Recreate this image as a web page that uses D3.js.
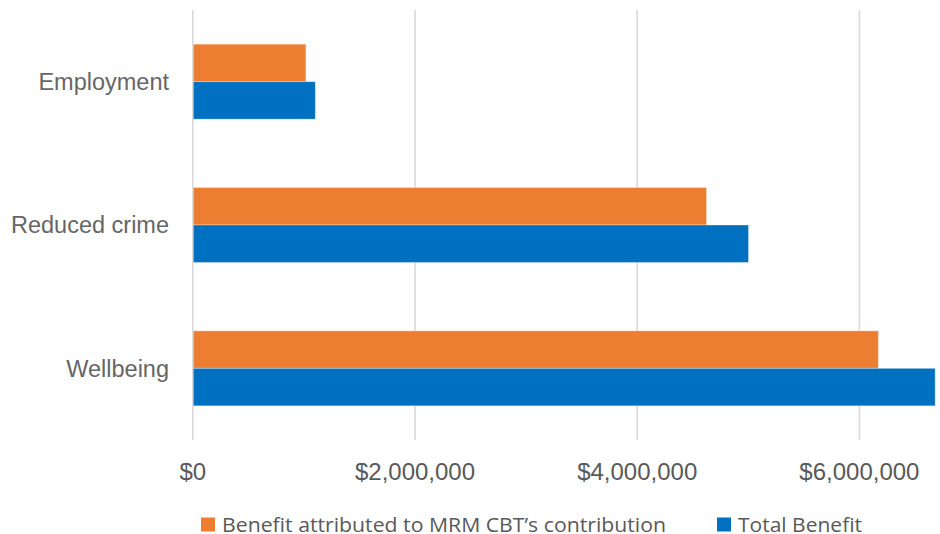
<!DOCTYPE html>
<html><head><meta charset="utf-8">
<script src="https://cdn.jsdelivr.net/npm/d3@7"></script>
<style>
html,body{margin:0;padding:0;background:#fff;overflow:hidden;}
svg{display:block;}
</style></head>
<body>
<svg id="chart" width="940" height="534"></svg>
<script>
const categories = ["Employment", "Reduced crime", "Wellbeing"];
const seriesNames = ["Benefit attributed to MRM CBT\u2019s contribution", "Total Benefit"];
const attributedValues = [1018000, 4624000, 6171000];
const totalValues = [1103000, 5002000, 6682000];
const xTickValues = [0, 2000000, 4000000, 6000000];
const seriesColors = ["#ED7D31", "#0070C0"];

const svg = d3.select("#chart");
const plot = {left: 192.8, top: 10, bottom: 440};

const x = d3.scaleLinear().domain([0, 7000000]).range([plot.left, plot.left + 7 * 111.1]);
const y = d3.scaleBand().domain(categories).range([plot.top, plot.bottom]).paddingInner(0.4767).paddingOuter(0.2383);
const ySub = d3.scaleBand().domain([0, 1]).range([0, y.bandwidth()]);

const fmt = v => "$" + d3.format(",")(v);

// gridlines
svg.append("g").selectAll("line").data(xTickValues).join("line")
  .attr("x1", d => x(d)).attr("x2", d => x(d))
  .attr("y1", plot.top).attr("y2", plot.bottom)
  .attr("stroke", "#d9d9d9").attr("stroke-width", 1.6);

// bars
const rows = categories.map((c, i) => ({cat: c, vals: [attributedValues[i], totalValues[i]]}));
const g = svg.append("g");
rows.forEach(r => {
  r.vals.forEach((v, s) => {
    g.append("rect")
      .attr("x", x(0) + 0.5)
      .attr("y", y(r.cat) + ySub(s))
      .attr("width", x(v) - x(0) - 0.5)
      .attr("height", ySub.bandwidth())
      .attr("fill", seriesColors[s])
      .attr("stroke", "#ffffff").attr("stroke-opacity", 0.35).attr("stroke-width", 1);
  });
});

// x tick labels
svg.append("g").selectAll("text").data(xTickValues).join("text")
  .attr("x", d => x(d)).attr("y", 480)
  .attr("text-anchor", "middle")
  .attr("font-family", "'Liberation Sans Narrow', 'Arial Narrow', 'Liberation Sans', sans-serif")
  .attr("font-size", 24)
  .attr("fill", "#595959")
  .text(fmt);

// category labels
svg.append("g").selectAll("text").data(categories).join("text")
  .attr("x", 169).attr("y", d => y(d) + y.bandwidth() / 2)
  .attr("dy", "0.36em")
  .attr("text-anchor", "end")
  .attr("font-family", "'Liberation Sans', Arial, sans-serif")
  .attr("font-size", 23.5)
  .attr("fill", "#666666")
  .text(d => d);

// legend
const legendX = [201, 717];
const legendTextW = [444, 124];
const lg = svg.append("g");
seriesNames.forEach((n, i) => {
  lg.append("rect").attr("x", legendX[i]).attr("y", 517.5).attr("width", 14).attr("height", 14).attr("fill", seriesColors[i]);
  lg.append("text").attr("x", legendX[i] + 21).attr("y", 531.5)
    .attr("font-family", "'Open Sans', 'Segoe UI', sans-serif")
    .attr("font-size", 20)
    .attr("textLength", legendTextW[i])
    .attr("lengthAdjust", "spacingAndGlyphs")
    .attr("fill", "#595959")
    .text(n);
});
</script>
</body></html>
